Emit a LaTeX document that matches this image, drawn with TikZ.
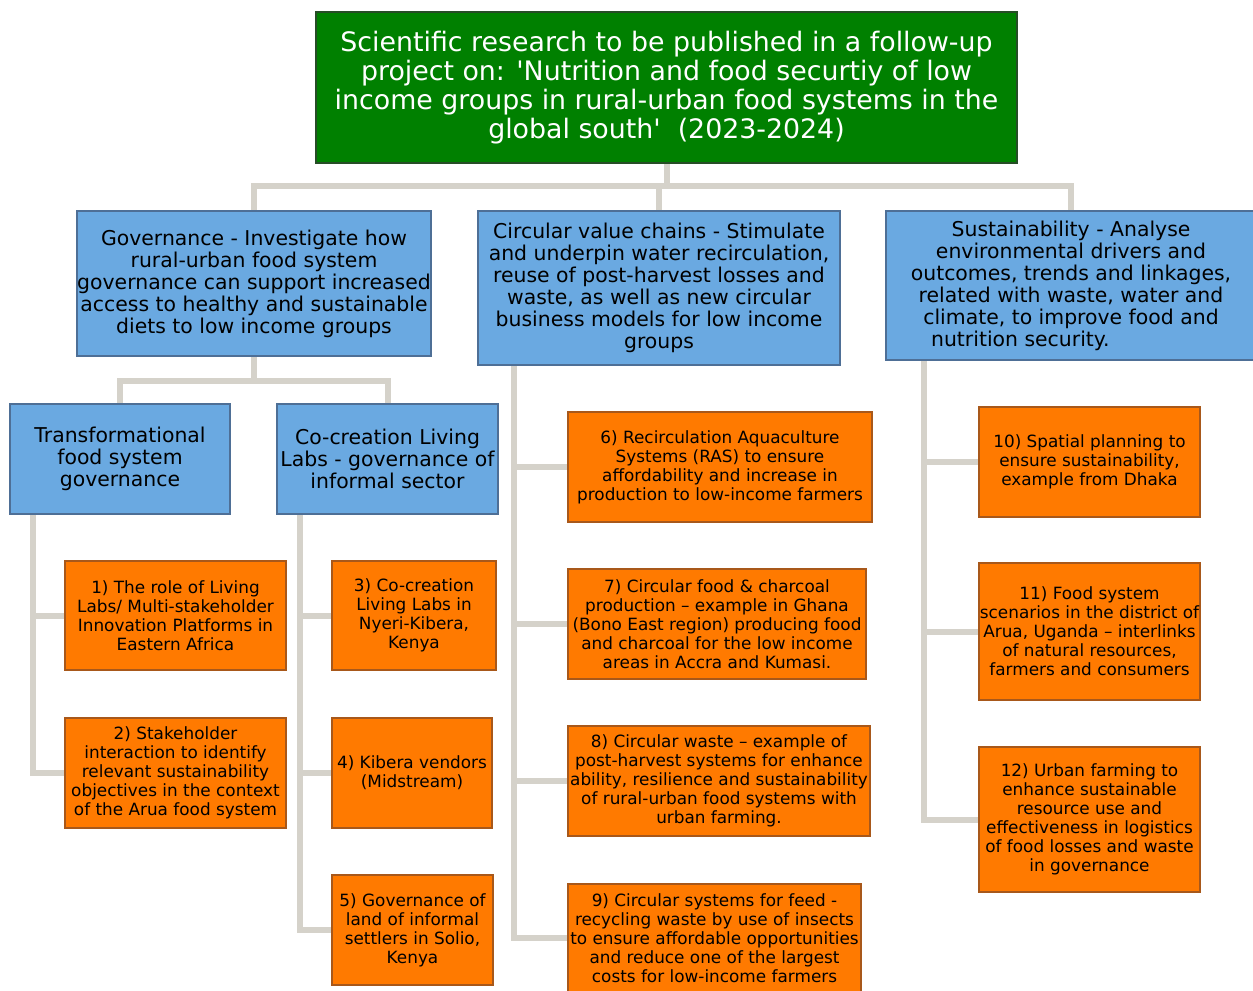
\documentclass[tikz,border=0pt]{standalone}
\usepackage{fontspec}
\setmainfont{DejaVu Sans}[Ligatures=TeXOff]
\usetikzlibrary{backgrounds}
\definecolor{topgreen}{HTML}{008000}
\definecolor{topedge}{HTML}{264D26}
\definecolor{themeblue}{HTML}{6AA9E1}
\definecolor{blueedge}{HTML}{4E6F96}
\definecolor{taskorange}{HTML}{FF7A00}
\definecolor{orangeedge}{HTML}{A8581A}
\definecolor{connector}{HTML}{D5D2CA}
% box placed by its top-left and bottom-right corners (pixel grid)
\newcommand\pbox[7]{\node[#6, anchor=north west,
  minimum width={(#4-#2)*0.75pt}, minimum height={(#5-#3)*0.75pt}] (#1) at (#2,#3) {#7};}
\tikzset{
  basebox/.style={rectangle, inner sep=0pt, outer sep=0pt, align=center, line width=1.1pt},
  titlebox/.style={basebox, fill=topgreen, draw=topedge, text=white,
    font=\fontsize{20.1}{21.75}\selectfont},
  themebox/.style={basebox, fill=themeblue, draw=blueedge, text=black,
    font=\fontsize{15.3}{16.5}\selectfont},
  taskbox/.style={basebox, fill=taskorange, draw=orangeedge, text=black,
    font=\fontsize{12.65}{14.25}\selectfont},
  conn/.style={draw=connector, line width=4.5pt, line join=miter},
}
\begin{document}
\begin{tikzpicture}[x=0.75pt, y=-0.75pt]
\clip (0,0) rectangle (1253,990);

\coordinate (bar) at (0,186);
\coordinate (gbar) at (0,381);
\coordinate (tx) at (33,0);
\coordinate (cx) at (300,0);
\coordinate (vx) at (514,0);
\coordinate (sx) at (924,0);

% boxes
\pbox{top}{316}{12}{1017}{163}{titlebox}{Scientific research to be published in a follow-up\\
project on: 'Nutrition and food securtiy of low\\
income groups in rural-urban food systems in the\\
global south'\ \ (2023-2024)}

\pbox{gov}{77}{211}{431}{356}{themebox}{Governance - Investigate how\\
rural-urban food system\\
governance can support increased\\
access to healthy and sustainable\\
diets to low income groups}
\pbox{cvc}{478}{211}{840}{365}{themebox}{Circular value chains - Stimulate\\
and underpin water recirculation,\\
reuse of post-harvest losses and\\
waste, as well as new circular\\
business models for low income\\
groups}
\pbox{sus}{886}{211}{1256}{360}{themebox}{Sustainability - Analyse\\
environmental drivers and\\
outcomes, trends and linkages,\\
related with waste, water and\\
climate, to improve food and\\
nutrition security.\hspace*{76pt}}

\pbox{tfs}{10}{404}{230}{514}{themebox}{Transformational\\food system\\governance}
\pbox{cll}{277}{404}{498}{514}{themebox}{Co-creation Living\\Labs - governance of\\informal sector}

\pbox{n1}{65}{561}{286}{670}{taskbox}{1) The role of Living\\
Labs/ Multi-stakeholder\\
Innovation Platforms in\\
Eastern Africa}
\pbox{n2}{65}{718}{286}{828}{taskbox}{2) Stakeholder\\
interaction to identify\\
relevant sustainability\\
objectives in the context\\
of the Arua food system}
\pbox{n3}{332}{561}{496}{670}{taskbox}{3) Co-creation\\
Living Labs in\\
Nyeri-Kibera,\\
Kenya}
\pbox{n4}{332}{718}{492}{828}{taskbox}{4) Kibera vendors\\
(Midstream)}
\pbox{n5}{332}{875}{493}{985}{taskbox}{5) Governance of\\
land of informal\\
settlers in Solio,\\
Kenya}

\pbox{n6}{568}{412}{872}{522}{taskbox}{6) Recirculation Aquaculture\\
Systems (RAS) to ensure\\
affordability and increase in\\
production to low-income farmers}
\pbox{n7}{568}{569}{866}{679}{taskbox}{7) Circular food \& charcoal\\
production – example in Ghana\\
(Bono East region) producing food\\
and charcoal for the low income\\
areas in Accra and Kumasi.}
\pbox{n8}{568}{726}{870}{836}{taskbox}{8) Circular waste – example of\\
post-harvest systems for enhance\\
ability, resilience and sustainability\\
of rural-urban food systems with\\
urban farming.}
\pbox{n9}{568}{884}{861}{992}{taskbox}{9) Circular systems for feed -\\
recycling waste by use of insects\\
to ensure affordable opportunities\\
and reduce one of the largest\\
costs for low-income farmers}

\pbox{n10}{979}{407}{1200}{517}{taskbox}{10) Spatial planning to\\
ensure sustainability,\\
example from Dhaka}
\pbox{n11}{979}{563}{1200}{700}{taskbox}{11) Food system\\
scenarios in the district of\\
Arua, Uganda – interlinks\\
of natural resources,\\
farmers and consumers}
\pbox{n12}{979}{747}{1200}{892}{taskbox}{12) Urban farming to\\
enhance sustainable\\
resource use and\\
effectiveness in logistics\\
of food losses and waste\\
in governance}

% tree connectors, kept behind the boxes
\begin{scope}[on background layer]
\fill[white] (0,0) rectangle (1253,990);
\draw[conn] (top.south) -- (top.south |- bar);
\draw[conn] (gov.north) -- (gov.north |- bar) -- (sus.north |- bar) -- (sus.north);
\draw[conn] (cvc.north) -- (cvc.north |- bar);

\draw[conn] (gov.south) -- (gov.south |- gbar);
\draw[conn] (tfs.north) -- (tfs.north |- gbar) -- (cll.north |- gbar) -- (cll.north);

\draw[conn] (tfs.south -| tx) |- (n1.west);
\draw[conn] (tfs.south -| tx) |- (n2.west);

\draw[conn] (cll.south -| cx) |- (n3.west);
\draw[conn] (cll.south -| cx) |- (n4.west);
\draw[conn] (cll.south -| cx) |- (n5.west);

\draw[conn] (cvc.south -| vx) |- (n6.west);
\draw[conn] (cvc.south -| vx) |- (n7.west);
\draw[conn] (cvc.south -| vx) |- (n8.west);
\draw[conn] (cvc.south -| vx) |- (n9.west);

\draw[conn] (sus.south -| sx) |- (n10.west);
\draw[conn] (sus.south -| sx) |- (n11.west);
\draw[conn] (sus.south -| sx) |- (n12.west);
\end{scope}
\end{tikzpicture}
\end{document}
